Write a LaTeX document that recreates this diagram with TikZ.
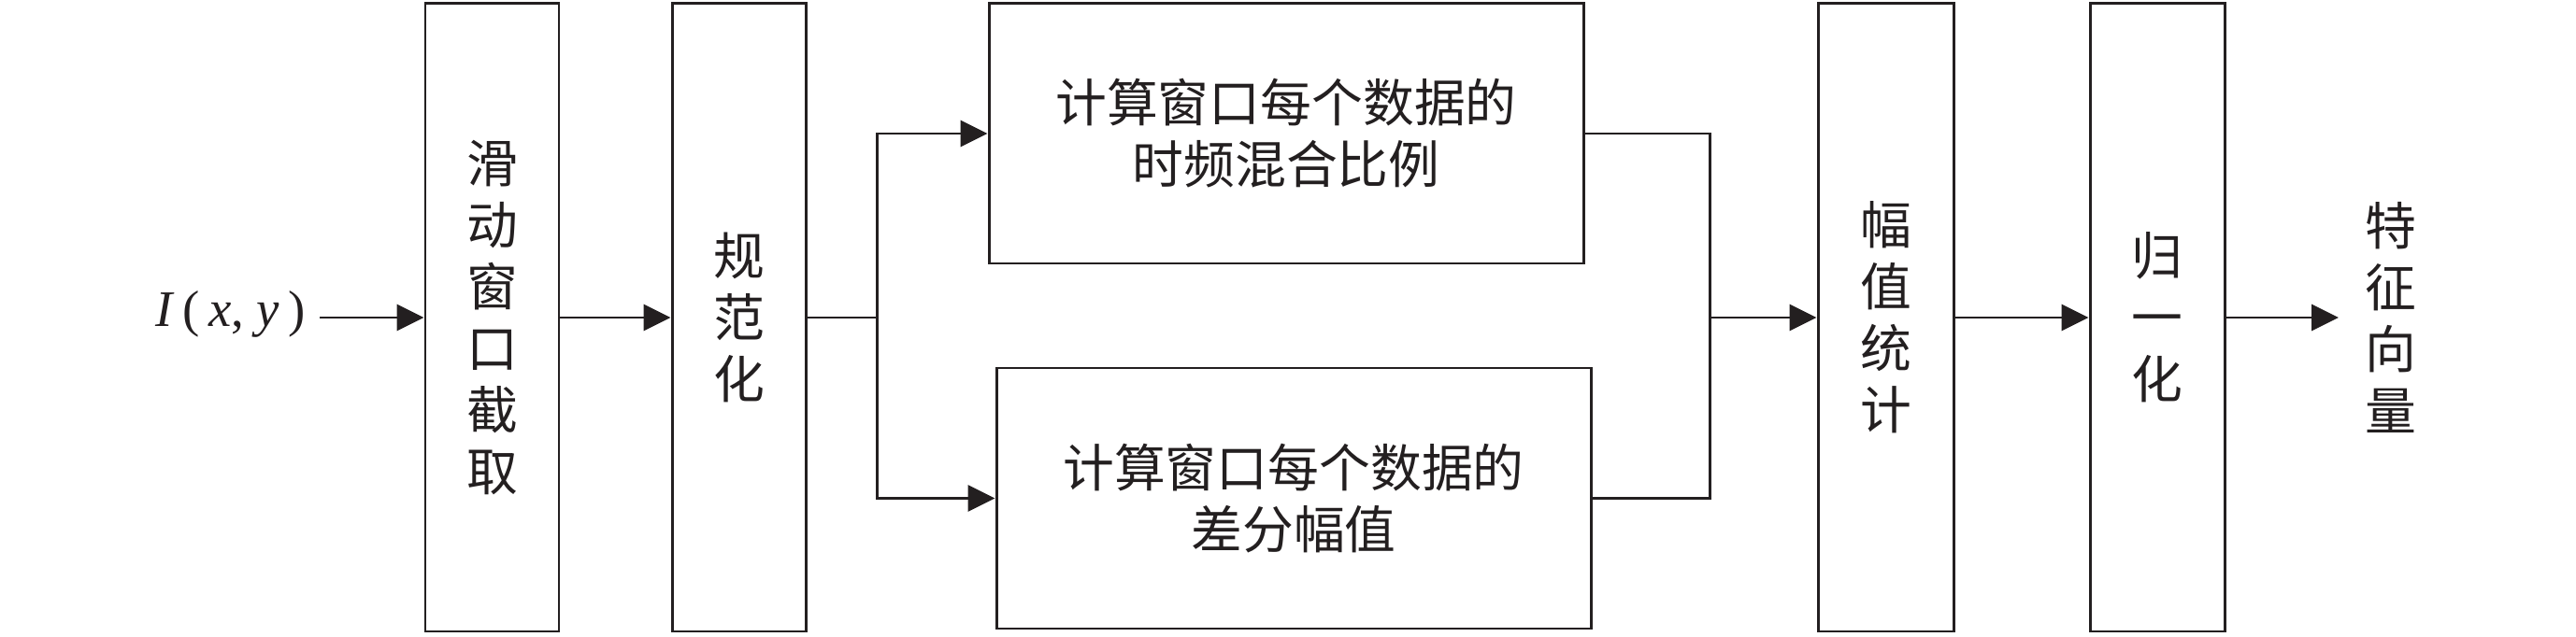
\documentclass[tikz,border=0pt]{standalone}
\usepackage{fontspec}
\usetikzlibrary{arrows.meta}
\newfontfamily\cjk{Noto Sans CJK SC}
\newfontfamily\tms{Liberation Serif}
\definecolor{ink}{HTML}{231F20}
\tikzset{
  box/.style={draw=ink, line width=0.85pt, fill=white, align=center, inner sep=0pt,
    font=\cjk\fontsize{15.6pt}{18.8pt}\selectfont, text=ink},
  tallbox/.style={box, minimum width=1.43cm, minimum height=6.72cm},
  widebox/.style={box, minimum width=6.36cm},
  conn/.style={draw=ink, line width=0.85pt},
  arr/.style={conn, -{Triangle[length=0.29cm, width=0.28cm]}},
  lbl/.style={align=center, inner sep=0pt, text=ink, font=\cjk\fontsize{15.6pt}{18.8pt}\selectfont}
}
\begin{document}
\begin{tikzpicture}
\useasboundingbox (0,0) rectangle (27.56,6.81);
\node[inner sep=0pt, text=ink, font=\tms\fontsize{15.6pt}{18pt}\selectfont] (in) at (2.465,3.45) {\textit{I}\,(\,\textit{x}, \textit{y}\,)};
\coordinate (instart) at (3.42,3.41);
\node[tallbox] (b1) at (5.265,3.41) {滑\\动\\窗\\口\\截\\取};
\node[tallbox] (b2) at (7.905,3.41) {规\\范\\化};
\node[widebox, minimum height=2.78cm] (top) at (13.76,5.38) {计算窗口每个数据的\\时频混合比例};
\node[widebox, minimum height=2.79cm] (bot) at (13.84,1.475) {计算窗口每个数据的\\差分幅值};
\node[tallbox, minimum width=1.45cm] (b3) at (20.175,3.41) {幅\\值\\统\\计};
\node[tallbox, minimum width=1.44cm] (b4) at (23.08,3.41) {归\\一\\化};
\node[lbl] (out) at (25.58,3.41) {特\\征\\向\\量};
\coordinate (split) at (9.38,3.41);
\coordinate (merge) at (18.29,3.41);
\coordinate (outend) at (25.02,3.41);
\draw[arr] (instart) -- (b1);
\draw[arr] (b1) -- (b2);
\draw[conn] (b2) -- (split);
\draw[arr] (split) |- (top.west);
\draw[arr] (split) |- (bot.west);
\draw[conn] (top.east) -| (merge);
\draw[conn] (bot.east) -| (merge);
\draw[arr] (merge) -- (b3);
\draw[arr] (b3) -- (b4);
\draw[arr] (b4) -- (outend);
\end{tikzpicture}
\end{document}
